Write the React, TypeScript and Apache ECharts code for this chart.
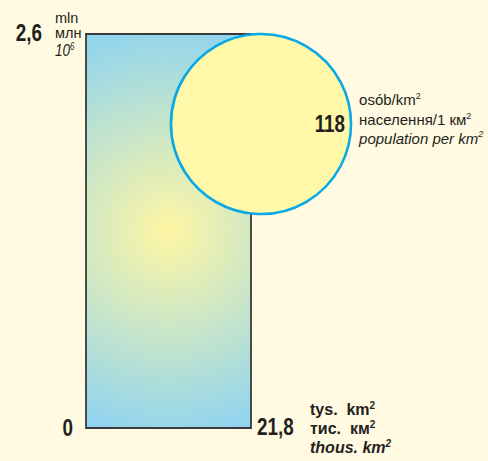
import React, { useEffect, useRef } from "react";
import * as echarts from "echarts";

// ---- data ----
const areaThousandKm2: number[] = [21.8];
const populationMln: number[] = [2.6];
const densityPerKm2: number[] = [118];

const areaTickLabels: string[] = ["0", "21,8"];
const populationTickLabels: string[] = ["0", "2,6"];
const densityLabels: string[] = ["118"];

const populationUnits: string[] = ["mln", "млн", "10"];
const populationUnitSups: string[] = ["", "", "6"];
const areaUnits: string[] = ["tys.\u00a0\u00a0km", "тис.\u00a0\u00a0км", "thous. km"];
const areaUnitSups: string[] = ["2", "2", "2"];
const densityUnits: string[] = ["osób/km", "населення/1 км", "population per km"];
const densityUnitSups: string[] = ["2", "2", "2"];

const FONT = "'Liberation Sans', Arial, Helvetica, sans-serif";
const INK = "#231f20";

function richLine(
  base: string,
  sup: string,
  size: number,
  weight: string,
  fontStyle: string,
  lh: number
) {
  const text = sup ? `{b|${base}}{s|${sup}}` : `{b|${base}}`;
  return {
    text,
    rich: {
      b: {
        fontSize: size,
        fontWeight: weight,
        fontStyle,
        fontFamily: FONT,
        fill: INK,
        lineHeight: lh,
      },
      s: {
        fontSize: Math.round(size * 0.6),
        fontWeight: weight,
        fontStyle,
        fontFamily: FONT,
        fill: INK,
        verticalAlign: "top",
        lineHeight: Math.round(size * 0.6),
      },
    },
  };
}

function bigText(text: string, x: number, y: number, align: string) {
  return {
    type: "text",
    x,
    y,
    scaleX: 0.82,
    style: {
      text,
      fontSize: 23,
      fontWeight: "bold",
      fontFamily: FONT,
      fill: INK,
      align,
      verticalAlign: "middle",
    },
  };
}

function lineText(
  x: number,
  y: number,
  base: string,
  sup: string,
  size: number,
  weight: string,
  fontStyle: string,
  lh: number,
  scaleX = 1
) {
  return {
    type: "text",
    x,
    y,
    scaleX,
    style: {
      ...richLine(base, sup, size, weight, fontStyle, lh),
      align: "left",
      verticalAlign: "middle",
    },
  };
}

export default function App() {
  const ref = useRef<HTMLDivElement>(null);

  useEffect(() => {
    if (!ref.current) return;
    const chart = echarts.init(ref.current, null, { renderer: "svg" });

    const data = areaThousandKm2.map((a, i) => [a, populationMln[i], densityPerKm2[i]]);

    const renderItem = (params: any, api: any) => {
      const area = api.value(0);
      const pop = api.value(1);
      const dens = api.value(2);
      const [L, B] = api.coord([0, 0]);
      const [R, T] = api.coord([area, pop]);
      const r = dens * 0.763;
      const cx = R + 10;
      const cy = T + r;
      const gx = (L + R) / 2;
      const gy = (T + B) / 2;

      const children: any[] = [
        {
          type: "rect",
          shape: { x: L, y: T, width: R - L, height: B - T },
          style: {
            fill: new echarts.graphic.RadialGradient(
              gx,
              gy,
              215,
              [
                { offset: 0, color: "#fff6a4" },
                { offset: 1, color: "#8cd3f2" },
              ],
              true
            ),
            stroke: "#3a3a3a",
            lineWidth: 1.8,
          },
        },
        {
          type: "circle",
          shape: { cx, cy, r },
          style: { fill: "#fff8a8", stroke: "#0aa9e6", lineWidth: 2.6 },
        },
        bigText(populationTickLabels[1], L - 44, T - 1.5, "right"),
        bigText(areaTickLabels[0], L - 13, B, "right"),
        bigText(areaTickLabels[1], R + 6, B - 1, "left"),
        bigText(densityLabels[0], cx + r - 6, cy, "right"),
      ];

      const popY = [T - 16, T - 1, T + 16];
      populationUnits.forEach((u, i) => {
        const italic = i === 2;
        children.push(
          lineText(
            L - 31,
            popY[i],
            u,
            populationUnitSups[i],
            italic ? 17 : 14.5,
            "normal",
            italic ? "italic" : "normal",
            italic ? 17 : 14.5,
            italic ? 0.8 : 1
          )
        );
      });

      const areaY = [B - 19, B, B + 19];
      areaUnits.forEach((u, i) => {
        children.push(
          lineText(R + 59, areaY[i], u, areaUnitSups[i], 16, "bold", i === 2 ? "italic" : "normal", 18)
        );
      });

      const densY = [cy - 24.5, cy - 4.5, cy + 14];
      densityUnits.forEach((u, i) => {
        children.push(
          lineText(cx + r + 8, densY[i], u, densityUnitSups[i], 15, "normal", i === 2 ? "italic" : "normal", 17)
        );
      });

      return { type: "group", children };
    };

    chart.setOption({
      animation: false,
      backgroundColor: "#fffae1",
      grid: { left: 86, right: 237, top: 34, bottom: 33, containLabel: false },
      xAxis: { type: "value", min: 0, max: areaThousandKm2[0], show: false },
      yAxis: { type: "value", min: 0, max: populationMln[0], show: false },
      series: [
        {
          type: "custom",
          renderItem,
          data,
          clip: false,
          silent: true,
        },
      ],
    });

    return () => chart.dispose();
  }, []);

  return (
    <div
      ref={ref}
      style={{ position: "absolute", left: 0, top: 0, width: 488, height: 461 }}
    />
  );
}
